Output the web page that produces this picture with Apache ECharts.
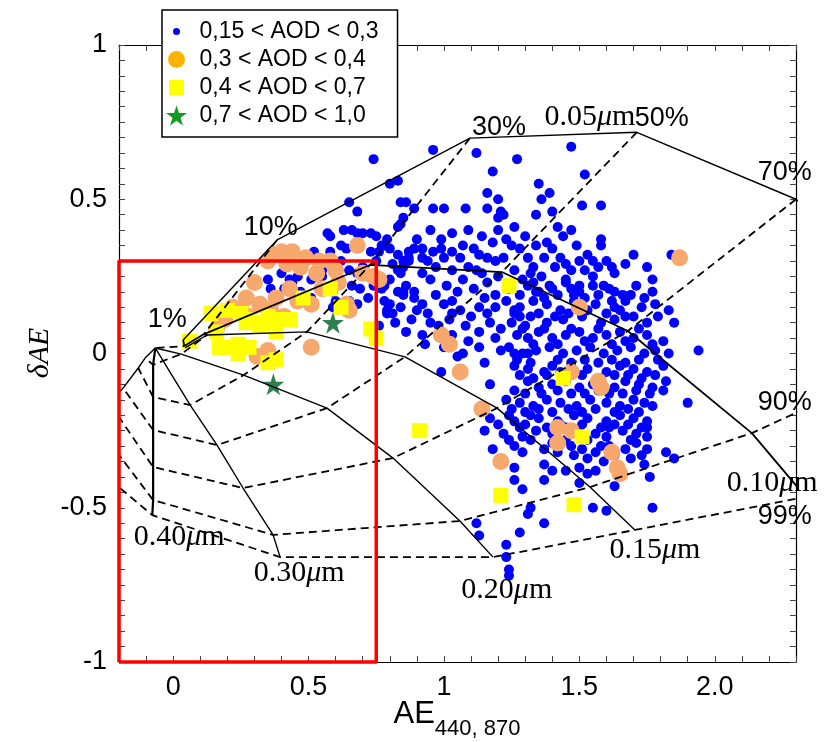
<!DOCTYPE html>
<html lang="en">
<head>
<meta charset="UTF-8">
<title>AE 440-870 vs dAE</title>
<script src="https://cdn.jsdelivr.net/npm/echarts@6/dist/echarts.min.js"></script>
<style>
  html, body { margin: 0; padding: 0; background: #fff; }
  #chart { width: 827px; height: 742px; }
</style>
</head>
<body>
<div id="chart"></div>
<script>
// names of the four AOD classes
var classNames = ['0,15 < AOD < 0,3', '0,3 < AOD < 0,4', '0,4 < AOD < 0,7', '0,7 < AOD < 1,0'];

// points: [AE 440-870, dAE]
var aodLow = [
  [0.74,0.63],[0.96,0.66],[1.12,0.65],[1.27,0.63],[1.47,0.67],[1.18,0.59],[1.52,0.58],[0.80,0.55],[0.83,0.56],
  [1.35,0.55],[1.16,0.52],[1.39,0.52],[1.36,0.50],[0.86,0.49],[0.89,0.47],[0.96,0.47],[1.00,0.47],[1.08,0.47],
  [1.16,0.47],[1.20,0.50],[1.21,0.46],[1.22,0.45],[1.20,0.44],[1.34,0.45],[1.40,0.46],[1.51,0.48],[1.58,0.48],
  [0.65,0.49],[0.68,0.46],[0.84,0.49],[0.85,0.44],[0.84,0.42],[0.83,0.41],[0.57,0.39],[0.58,0.38],[0.63,0.40],
  [0.66,0.40],[0.68,0.39],[0.70,0.39],[0.73,0.39],[0.75,0.38],[0.62,0.35],[0.64,0.34],[0.73,0.33],[0.78,0.35],
  [0.80,0.34],[0.83,0.32],[0.87,0.31],[0.85,0.30],[0.87,0.33],[0.52,0.33],[0.35,0.29],[0.51,0.24],[0.65,0.27],
  [0.68,0.26],[0.72,0.25],[0.74,0.22],[0.78,0.22],[0.80,0.24],[0.83,0.27],[0.85,0.28],[0.83,0.20],[0.85,0.20],
  [0.77,0.21],[0.78,0.17],[0.80,0.16],[0.79,0.14],[0.35,0.24],[0.36,0.21],[0.41,0.21],[0.43,0.24],[0.44,0.23],
  [0.46,0.25],[0.47,0.20],[0.51,0.18],[0.59,0.20],[0.60,0.17],[0.59,0.15],[0.65,0.17],[0.68,0.16],[0.76,0.09],
  [0.81,0.13],[0.46,0.28],[0.40,0.26],[0.55,0.25],[0.55,0.27],[0.79,0.37],[0.77,0.35],[0.81,0.29],[0.84,0.26],
  [0.89,0.34],[0.92,0.34],[0.99,0.37],[0.99,0.34],[1.07,0.35],[1.11,0.34],[1.13,0.32],[1.18,0.36],[1.23,0.37],
  [1.25,0.35],[1.28,0.34],[1.34,0.35],[1.38,0.36],[1.44,0.38],[1.40,0.34],[1.49,0.35],[1.53,0.32],[1.58,0.37],
  [1.58,0.35],[0.76,0.33],[0.87,0.30],[0.92,0.31],[1.00,0.31],[1.06,0.31],[1.12,0.27],[1.16,0.31],[1.19,0.30],
  [1.22,0.31],[1.31,0.31],[1.37,0.31],[1.43,0.31],[1.45,0.29],[1.50,0.30],[1.55,0.30],[1.60,0.30],[1.63,0.26],
  [1.67,0.29],[1.70,0.32],[1.75,0.28],[1.77,0.24],[1.84,0.32],[0.86,0.22],[0.89,0.20],[0.95,0.24],[1.01,0.22],
  [1.07,0.24],[1.11,0.21],[1.16,0.23],[1.29,0.24],[1.34,0.20],[1.39,0.22],[1.45,0.24],[1.50,0.22],[1.55,0.25],
  [1.59,0.22],[1.63,0.20],[1.48,0.19],[1.32,0.26],[0.92,0.26],
  [0.79,0.13],[0.84,0.15],[0.90,0.14],[0.94,0.13],[1.00,0.16],[1.06,0.14],[1.13,0.15],[1.19,0.15],[1.26,0.14],
  [1.28,0.12],[1.13,0.07],[1.21,0.08],[1.13,0.02],[1.26,0.00],[1.31,0.00],[0.99,-0.06],
  [0.85,0.19],[0.89,0.18],[0.92,0.16],[0.97,0.19],[1.03,0.17],[1.05,0.20],[0.88,0.11],[0.95,0.10],[1.02,0.11],
  [1.08,0.09],[1.17,0.10],[1.19,0.05],[1.09,0.04],[1.03,0.06],[1.21,0.01],[1.15,-0.03],[1.05,-0.01],
  [1.31,0.22],[1.35,0.20],[1.40,0.21],[1.45,0.23],[1.50,0.20],[1.55,0.22],[1.61,0.21],[1.66,0.19],[1.71,0.22],
  [1.77,0.20],[1.23,0.17],[1.28,0.15],[1.33,0.17],[1.38,0.16],[1.43,0.14],[1.48,0.17],[1.56,0.16],[1.63,0.15],
  [1.67,0.17],[1.73,0.15],[1.78,0.16],[1.83,0.14],[1.25,0.10],[1.32,0.12],[1.38,0.10],[1.44,0.11],[1.51,0.12],
  [1.58,0.10],[1.63,0.11],[1.67,0.12],[1.75,0.10],[1.85,0.10],[1.27,0.06],[1.31,0.05],[1.35,0.07],[1.40,0.05],
  [1.45,0.06],[1.50,0.07],[1.55,0.05],[1.60,0.06],[1.65,0.07],[1.70,0.05],[1.75,0.06],[1.81,0.04],[1.24,0.02],
  [1.29,0.00],[1.34,0.01],[1.39,0.02],[1.44,0.00],[1.49,0.01],[1.54,0.02],[1.59,0.00],[1.64,0.01],[1.69,0.02],
  [1.74,0.00],[1.78,0.01],[1.83,0.00],[1.94,0.01],[1.26,-0.04],[1.31,-0.05],[1.37,-0.06],[1.40,-0.04],[1.53,-0.05],
  [1.60,-0.06],[1.65,-0.04],[1.70,-0.05],[1.75,-0.06],[1.81,-0.04],[1.17,-0.10],[1.31,-0.09],[1.35,-0.11],
  [1.40,-0.10],[1.45,-0.09],[1.50,-0.11],[1.55,-0.10],[1.63,-0.11],[1.67,-0.09],[1.72,-0.10],[1.77,-0.11],
  [1.82,-0.09],[1.23,-0.15],[1.28,-0.16],[1.33,-0.17],[1.38,-0.15],[1.43,-0.16],[1.49,-0.17],[1.54,-0.15],
  [1.60,-0.16],[1.65,-0.17],[1.70,-0.15],[1.74,-0.16],[1.90,-0.16],[1.17,-0.21],[1.26,-0.22],[1.32,-0.20],
  [1.35,-0.21],[1.42,-0.22],[1.48,-0.20],[1.53,-0.21],[1.60,-0.22],[1.65,-0.20],[1.70,-0.21],[1.75,-0.22],
  [1.15,-0.25],[1.22,-0.26],[1.28,-0.24],[1.34,-0.25],[1.40,-0.26],[1.45,-0.24],[1.50,-0.25],[1.56,-0.26],
  [1.61,-0.24],[1.66,-0.25],[1.71,-0.26],[1.75,-0.24],[1.18,-0.31],[1.26,-0.30],[1.29,-0.32],[1.37,-0.31],
  [1.42,-0.32],[1.47,-0.30],[1.51,-0.31],[1.56,-0.32],[1.61,-0.30],[1.67,-0.31],[1.71,-0.29],[1.75,-0.31],
  [1.82,-0.32],[1.85,-0.34],[1.26,-0.37],[1.37,-0.36],[1.45,-0.38],[1.50,-0.37],[1.53,-0.39],[1.56,-0.38],
  [1.65,-0.37],[1.74,-0.36],[1.76,-0.40],[1.26,-0.41],[1.29,-0.44],[1.37,-0.41],[1.40,-0.38],[1.32,-0.50],
  [1.37,-0.55],[1.28,-0.58],[1.23,-0.62],[1.23,-0.66],[1.24,-0.70],[1.24,-0.72],[1.12,-0.55],[1.13,-0.59],
  [1.31,-0.52],[1.50,-0.42],[1.55,-0.50],[1.60,-0.51],[1.63,-0.43],[1.77,-0.50],[1.81,-0.12],[1.24,-0.20],
  [1.29,-0.27],[1.58,-0.30],[1.63,-0.33],[1.75,-0.27],[1.77,-0.17],[1.45,-0.28],[1.48,-0.33],
  [1.28,0.19],[1.33,0.23],[1.37,0.18],[1.42,0.19],[1.47,0.21],[1.52,0.18],[1.57,0.19],[1.62,0.17],[1.69,0.19],
  [1.74,0.18],[1.26,0.13],[1.30,0.09],[1.35,0.13],[1.41,0.12],[1.46,0.13],[1.53,0.14],[1.60,0.13],[1.65,0.14],
  [1.70,0.12],[1.79,0.12],[1.29,0.08],[1.33,0.03],[1.37,0.08],[1.42,0.03],[1.47,0.08],[1.52,0.04],[1.57,0.08],
  [1.62,0.03],[1.67,0.04],[1.72,0.08],[1.77,0.03],[1.27,-0.02],[1.32,-0.03],[1.42,-0.02],[1.47,-0.03],[1.52,-0.02],
  [1.57,-0.03],[1.62,-0.02],[1.67,-0.03],[1.72,-0.02],[1.79,-0.02],[1.28,-0.07],[1.33,-0.08],[1.38,-0.07],
  [1.43,-0.06],[1.51,-0.07],[1.58,-0.08],[1.63,-0.07],[1.68,-0.07],[1.73,-0.08],[1.78,-0.07],[1.26,-0.12],
  [1.30,-0.13],[1.36,-0.13],[1.42,-0.12],[1.47,-0.13],[1.52,-0.13],[1.57,-0.12],[1.61,-0.13],[1.66,-0.13],
  [1.71,-0.12],[1.76,-0.13],[1.25,-0.18],[1.30,-0.19],[1.35,-0.18],[1.40,-0.19],[1.46,-0.18],[1.51,-0.19],
  [1.56,-0.18],[1.63,-0.19],[1.68,-0.18],[1.72,-0.19],[1.20,-0.23],[1.30,-0.23],[1.38,-0.24],[1.43,-0.23],
  [1.51,-0.23],[1.58,-0.24],[1.63,-0.23],[1.68,-0.23],[1.73,-0.24],[1.24,-0.28],[1.32,-0.28],[1.40,-0.29],
  [1.53,-0.28],[1.60,-0.27],[1.69,-0.28],[1.73,-0.33],[1.53,-0.34],[1.59,-0.35],[1.69,-0.34],[1.33,0.28],
  [1.41,0.28],[1.47,0.27],[1.52,0.27],[1.57,0.28],[1.62,0.28],[1.36,0.25],[1.26,0.27],[1.20,0.25],[1.24,0.21],
  [1.19,0.19],[1.15,0.18],[0.90,0.37],[0.95,0.40],[1.03,0.39],[1.09,0.40],[1.14,0.38],[1.20,0.40],[1.26,0.41],
  [1.30,0.38],[1.42,0.41],[1.47,0.40],[0.94,0.30],[0.97,0.28],[1.03,0.27],[1.09,0.28],[1.14,0.26],[1.03,0.33],
  [0.96,0.33],[0.82,0.10],[0.86,0.07],[0.92,0.06],[0.98,0.09],[1.03,0.13],[1.10,0.12],[1.16,0.13],[0.93,0.03],
  [1.00,0.02],[1.07,0.00],[0.70,0.28],[0.75,0.30],[0.62,0.30],[0.58,0.33],[0.69,0.21],[0.72,0.18],[0.66,0.22]
];
var aodMid = [
  [0.40,0.33],[0.44,0.33],[0.49,0.31],[0.54,0.30],[0.53,0.26],[0.47,0.28],[0.68,0.35],[0.70,0.26],[0.74,0.25],
  [0.76,0.24],[0.55,0.21],[0.61,0.23],[0.43,0.21],[0.38,0.18],[0.32,0.16],[0.27,0.18],[0.25,0.14],[0.28,0.12],
  [0.19,0.11],[0.16,0.08],[0.46,0.17],[0.51,0.16],[0.36,0.14],[0.41,0.12],[0.64,0.16],[0.65,0.14],[0.51,0.02],
  [0.35,0.01],[0.31,-0.01],[0.37,0.32],[0.35,0.30],[0.58,0.30],[0.60,0.27],[0.42,0.29],[0.30,0.23],[0.22,0.15],
  [1.50,0.15],[0.99,0.06],[1.02,0.03],[1.06,-0.06],[1.14,-0.18],[1.47,-0.06],[1.57,-0.09],[1.58,-0.11],
  [1.42,-0.24],[1.47,-0.25],[1.42,-0.29],[1.21,-0.35],[1.62,-0.32],[1.64,-0.37],[1.65,-0.39],[1.87,0.31]
];
var aodHigh = [
  [0.06,0.04],[0.14,0.13],[0.16,0.07],[0.17,0.02],[0.20,0.14],[0.25,0.13],[0.19,0.02],[0.24,0.03],[0.24,0.00],
  [0.27,0.10],[0.28,0.11],[0.28,0.02],[0.32,0.09],[0.33,0.10],[0.35,0.12],[0.38,0.10],[0.40,0.11],[0.43,0.11],
  [0.38,0.07],[0.35,-0.03],[0.38,-0.02],[0.48,0.18],[0.58,0.21],[0.62,0.15],[0.73,0.08],[0.75,0.05],
  [1.24,0.22],[1.44,-0.08],[0.91,-0.25],[1.51,-0.27],[1.21,-0.46],[1.48,-0.49]
];
var aodVeryHigh = [[0.59,0.10],[0.37,-0.10]];

// classification grid: one row per fine-mode radius, one column per fine-mode fraction
var etaLabels = ['1%', '10%', '30%', '50%', '70%', '90%', '99%'];
var radiusLabels = ['0.05', '0.10', '0.15', '0.20', '0.30', '0.40', '0.50'];
var radiusNodes = [
  [[0.037,0.044],[0.384,0.368],[1.096,0.698],[1.712,0.717],[2.30,0.50],[2.90,0.05],[3.10,-0.34]],
  [[0.041,0.024],[0.114,0.063],[0.727,0.287],[1.214,0.264],[1.679,0.073],[2.137,-0.258],[2.336,-0.465]],
  [[0.044,0.018],[0.125,0.060],[0.494,0.070],[0.856,-0.011],[1.196,-0.177],[1.539,-0.433],[1.705,-0.572]],
  [[-0.066,0.018],[0.030,-0.002],[0.260,-0.070],[0.568,-0.177],[0.812,-0.339],[1.059,-0.543],[1.181,-0.660]],
  [[-0.066,0.018],[-0.037,-0.024],[0.063,-0.167],[0.162,-0.297],[0.258,-0.436],[0.369,-0.588],[0.395,-0.660]],
  [[-0.066,0.018],[-0.074,-0.037],[-0.074,-0.141],[-0.074,-0.248],[-0.074,-0.368],[-0.074,-0.475],[-0.077,-0.524]],
  [[-0.066,0.018],[-0.103,-0.014],[-0.129,-0.047],[-0.185,-0.112],[-0.236,-0.160],[-0.292,-0.222],[-0.373,-0.306]]
];
var radiusLineWidth = [1.4, 1.8, 1.4, 1.4, 1.4, 2.2, 1.4];
// where the grid labels sit (data units)
var etaLabelPos = [[-0.022,0.109],[0.36,0.407],[1.203,0.734],[1.804,0.760],[2.159,0.588],[2.159,-0.160],[2.159,-0.530]];
var radiusLabelPos = [[1.539,0.767],[2.044,-0.420],[1.779,-0.637],[1.232,-0.767],[0.465,-0.712],[0.022,-0.595]];

// red selection box
var boxCorners = [[-0.2,-1],[0.75,-1],[0.75,0.3],[-0.2,0.3],[-0.2,-1]];

var xTickValues = [0, 0.5, 1, 1.5, 2];
var xTickText = ['0', '0.5', '1', '1.5', '2.0'];
var yTickValues = [-1, -0.5, 0, 0.5, 1];
var yTickText = ['-1', '-0.5', '0', '0.5', '1'];

var starPath = 'path://M50,0L61.2,34.5L97.6,34.5L68.2,55.9L79.4,90.5L50,69.1L20.6,90.5L31.8,55.9L2.4,34.5L38.8,34.5Z';

function tickText(values, texts) {
  return function (v) {
    for (var i = 0; i < values.length; i++) {
      if (Math.abs(v - values[i]) < 1e-6) return texts[i];
    }
    return '';
  };
}

var chart = echarts.init(document.getElementById('chart'));

var series = [
  { name: classNames[0], type: 'scatter', data: aodLow, symbol: 'circle', symbolSize: 10,
    itemStyle: { color: '#0000ff', opacity: 1 } },
  { name: classNames[1], type: 'scatter', data: aodMid, symbol: 'circle', symbolSize: 17,
    itemStyle: { color: '#f7a86c', opacity: 1 } },
  { name: classNames[2], type: 'scatter', data: aodHigh, symbol: 'rect', symbolSize: 15,
    itemStyle: { color: '#ffff00', opacity: 1 } },
  { name: classNames[3], type: 'scatter', data: aodVeryHigh, symbol: starPath, symbolSize: 22,
    itemStyle: { color: '#2f8050', opacity: 1 } }
];

// solid lines: constant radius
radiusNodes.forEach(function (nodes, i) {
  series.push({ type: 'line', data: nodes, symbol: 'none', silent: true,
    lineStyle: { color: '#000', width: radiusLineWidth[i], type: 'solid' } });
});
// dashed lines: constant fine fraction
etaLabels.forEach(function (eta, j) {
  var pts = radiusNodes.map(function (nodes) { return nodes[j]; });
  series.push({ type: 'line', data: pts, symbol: 'none', silent: true,
    lineStyle: { color: '#000', width: 1.8, type: [8, 5] } });
});

series.push({ type: 'line', data: boxCorners, symbol: 'none', silent: true, clip: false,
  lineStyle: { color: '#ff0000', width: 3.5 } });

var labelData = [];
etaLabels.forEach(function (t, j) {
  labelData.push({ value: etaLabelPos[j], label: { formatter: t, align: j >= 4 ? 'left' : 'center',
    fontFamily: 'Liberation Sans', fontSize: 27, color: '#000' } });
});
radiusLabelPos.forEach(function (p, i) {
  labelData.push({ value: p, label: { formatter: radiusLabels[i] + '{u|\u03bc}m', align: i === 1 ? 'left' : 'center',
    fontFamily: 'Liberation Serif', fontSize: 30, color: '#000',
    rich: { u: { fontFamily: 'Liberation Serif', fontStyle: 'italic', fontSize: 30, color: '#000' } } } });
});
series.push({ type: 'scatter', data: labelData, symbolSize: 0, silent: true, clip: false,
  itemStyle: { color: '#000', opacity: 1 },
  label: { show: true, position: 'inside', color: '#000', verticalAlign: 'middle',
    textBorderWidth: 0, textShadowBlur: 0 } });

var tickStyle = { show: true, inside: true, length: 6, lineStyle: { color: '#444', width: 1 } };
var lineAxis = { show: true, onZero: false, lineStyle: { color: '#000', width: 1.2 } };

chart.setOption({
  animation: false,
  backgroundColor: '#fff',
  grid: { left: 119, right: 31, top: 45, bottom: 80, containLabel: false, outerBoundsMode: 'none' },
  xAxis: [
    { type: 'value', min: -0.2, max: 2.3, interval: 0.1, position: 'bottom',
      axisLine: lineAxis, axisTick: tickStyle, splitLine: { show: false },
      axisLabel: { formatter: tickText(xTickValues, xTickText), color: '#000',
        fontFamily: 'Liberation Sans', fontSize: 27, margin: 12 } },
    { type: 'value', min: -0.2, max: 2.3, interval: 0.1, position: 'top',
      axisLine: lineAxis, axisTick: tickStyle, splitLine: { show: false }, axisLabel: { show: false } }
  ],
  yAxis: [
    { type: 'value', min: -1, max: 1, interval: 0.05, position: 'left',
      axisLine: lineAxis, axisTick: tickStyle, splitLine: { show: false },
      axisLabel: { formatter: tickText(yTickValues, yTickText), color: '#000',
        fontFamily: 'Liberation Sans', fontSize: 27, margin: 12 } },
    { type: 'value', min: -1, max: 1, interval: 0.05, position: 'right',
      axisLine: lineAxis, axisTick: tickStyle, splitLine: { show: false }, axisLabel: { show: false } }
  ],
  legend: {
    orient: 'vertical', left: 162, top: 10, padding: [10, 19, 10, 4], itemGap: 5,
    itemWidth: 36, itemHeight: 20, selectedMode: false,
    backgroundColor: '#fff', borderColor: '#000', borderWidth: 1.5,
    textStyle: { fontFamily: 'Liberation Sans', fontSize: 23, color: '#000' },
    data: [
      { name: classNames[0], icon: 'path://M0,0M20,20M6.5,10a3.5,3.5 0 1,0 7,0a3.5,3.5 0 1,0 -7,0Z', itemStyle: { color: '#0000ff', opacity: 1 } },
      { name: classNames[1], icon: 'path://M0,0M20,20M1.5,10a8.5,8.5 0 1,0 17,0a8.5,8.5 0 1,0 -17,0Z', itemStyle: { color: '#ffb300', opacity: 1 } },
      { name: classNames[2], icon: 'path://M0,0M20,20M2.5,2.5H17.5V17.5H2.5Z', itemStyle: { color: '#ffff00', opacity: 1 } },
      { name: classNames[3], icon: starPath, itemStyle: { color: '#129a22', opacity: 1 } }
    ]
  },
  graphic: [
    { type: 'text', x: 40, y: 353, rotation: Math.PI / 2,
      style: { text: '\u03b4AE', fontFamily: 'Liberation Serif', fontStyle: 'italic', fontSize: 30,
        fill: '#000', align: 'center', verticalAlign: 'middle', textAlign: 'center', textVerticalAlign: 'middle' } },
    { type: 'text', x: 457, y: 699,
      style: { text: '{a|AE}{s|440, 870}', fill: '#000', align: 'center', verticalAlign: 'top',
        textAlign: 'center', textVerticalAlign: 'top',
        rich: {
          a: { fontFamily: 'Liberation Sans', fontSize: 31, lineHeight: 31, verticalAlign: 'top' },
          s: { fontFamily: 'Liberation Sans', fontSize: 22, lineHeight: 22, padding: [19, 0, 0, 0], verticalAlign: 'top' }
        } } }
  ],
  series: series
});
</script>
</body>
</html>
